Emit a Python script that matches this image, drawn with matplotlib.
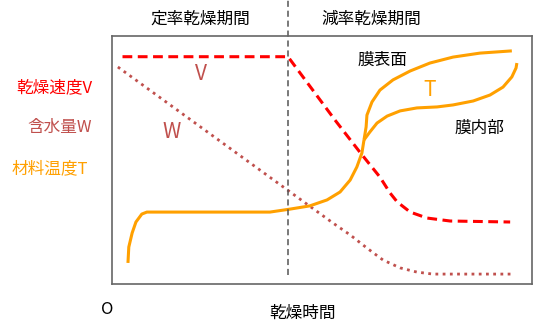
import matplotlib
matplotlib.use("Agg")
from matplotlib import pyplot as plt

plt.rcParams['font.family'] = ['Noto Sans CJK JP', 'DejaVu Sans']

# 乾燥速度 V (dashed red)
v_x = [2.5, 41.9, 53.1, 59.0, 63.8, 66.2, 67.9, 71.0, 75.0, 80.5, 94.8]
v_y = [91.65, 91.65, 66.1, 53.2, 43.1, 36.7, 33.1, 29.0, 26.6, 25.4, 25.0]

# 含水量 W (dotted)
w_x = [1.4, 52.6, 56.7, 60.7, 64.5, 68.6, 72.6, 76.4, 80.5, 95.0]
w_y = [87.5, 24.6, 19.8, 14.5, 9.7, 6.5, 4.8, 4.0, 4.0, 4.0]

# 材料温度 T up to the split point
t_x = [3.8, 4.0, 4.8, 5.7, 7.1, 8.3, 37.6, 42.4, 47.1, 51.2, 54.3, 56.7, 58.3, 59.5, 60.0]
t_y = [8.5, 14.9, 20.6, 25.0, 28.2, 29.0, 29.0, 30.2, 31.5, 33.9, 37.1, 41.9, 47.2, 52.8, 58.1]

# T branch: film surface
ts_x = [60.0, 60.5, 60.7, 61.9, 63.8, 66.9, 71.0, 75.7, 81.2, 87.6, 95.2]
ts_y = [58.1, 63.3, 68.1, 73.4, 78.2, 82.3, 85.9, 89.1, 91.5, 93.1, 94.0]

# T branch: film inside
ti_x = [60.0, 61.4, 63.1, 65.5, 68.6, 72.6, 77.4, 81.2, 86.0, 90.0, 93.1, 95.2, 96.2, 96.4]
ti_y = [58.1, 61.3, 64.9, 67.7, 69.8, 71.0, 71.4, 72.2, 73.8, 76.2, 79.4, 83.5, 87.1, 89.1]

boundary_x = 41.9

RED = '#ff0000'
BROWN = '#c0504d'
ORANGE = '#ffa000'

W, H = 533, 333
fig = plt.figure(figsize=(W / 100, H / 100), dpi=100)
ax = fig.add_axes([112 / W, 1 - 284 / H, 420 / W, 248 / H])
ax.set_xlim(0, 100)
ax.set_ylim(0, 100)
ax.set_xticks([])
ax.set_yticks([])
for s in ax.spines.values():
    s.set_color('#666666')
    s.set_linewidth(1.2)

ax.plot(v_x, v_y, color=RED, lw=2.2, linestyle=(0, (3.2, 1.8)), dash_joinstyle='round')
ax.plot(w_x, w_y, color=BROWN, lw=2.0, linestyle=(0, (1, 1.6)))
for xs, ys in [(t_x, t_y), (ts_x, ts_y), (ti_x, ti_y)]:
    ax.plot(xs, ys, color=ORANGE, lw=2.2, solid_capstyle='butt', solid_joinstyle='round')

ax.plot([boundary_x, boundary_x], [3.6, 114.5], color='#555555', lw=1.1,
        linestyle=(0, (4, 2.5)), clip_on=False)

# labels inside the plot
ax.text(21.2, 84.7, 'V', color=BROWN, fontsize=15, ha='center', va='center')
ax.text(14.3, 61.3, 'W', color=BROWN, fontsize=15, ha='center', va='center')
ax.text(75.7, 78.2, 'T', color=ORANGE, fontsize=15, ha='center', va='center')
ax.text(64.3, 90.3, '膜表面', fontsize=12, ha='center', va='center')
ax.text(87.6, 62.9, '膜内部', fontsize=12, ha='center', va='center')


def ftext(px, py, s, **kw):
    fig.text(px / W, 1 - py / H, s, va='center', **kw)


ftext(200, 19, '定率乾燥期間', fontsize=12, ha='center')
ftext(371, 19, '減率乾燥期間', fontsize=12, ha='center')
ftext(16, 88, '乾燥速度V', fontsize=12, color=RED, ha='left')
ftext(27, 127, '含水量W', fontsize=12, color=BROWN, ha='left')
ftext(12, 169, '材料温度T', fontsize=12, color=ORANGE, ha='left')
ftext(107, 310, 'O', fontsize=12, ha='center')
ftext(303, 313, '乾燥時間', fontsize=12, ha='center')

fig.savefig('out.png', dpi=100)
